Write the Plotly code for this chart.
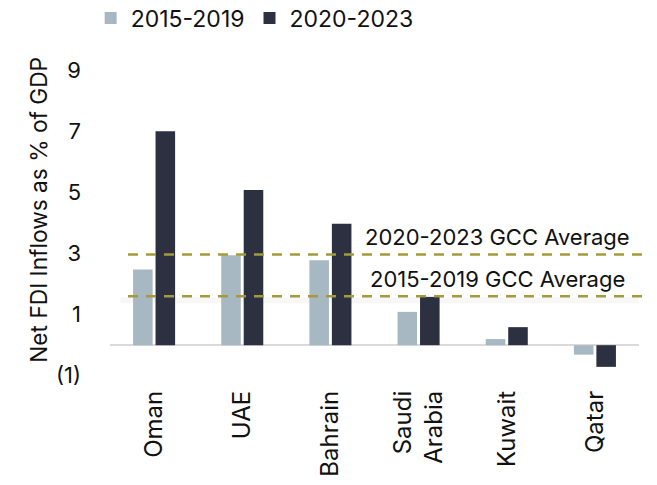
import plotly.graph_objects as go

# Net FDI inflows as % of GDP, GCC economies
countries = ["Oman", "UAE", "Bahrain", "Saudi<br>Arabia", "Kuwait", "Qatar"]
fdi_2015_2019 = [2.48, 2.94, 2.78, 1.09, 0.20, -0.31]
fdi_2020_2023 = [7.0, 5.08, 3.97, 1.58, 0.59, -0.71]

# GCC averages for each period
gcc_avg_2015_2019 = 1.6
gcc_avg_2020_2023 = 2.97

tick_vals = [9, 7, 5, 3, 1, -1]
tick_text = ["9", "7", "5", "3", "1", "(1)"]

FONT = "Inter"
LIGHT = "#A8B8C3"
DARK = "#2D3040"
OLIVE = "#A39A3C"

fig = go.Figure()
fig.add_trace(go.Bar(x=countries, y=fdi_2015_2019, name="2015-2019",
                     marker=dict(color=LIGHT, line=dict(width=0))))
fig.add_trace(go.Bar(x=countries, y=fdi_2020_2023, name="2020-2023",
                     marker=dict(color=DARK, line=dict(width=0))))

# soft shadow under the lower average line
fig.add_shape(type="line", xref="paper", yref="y", x0=0.02, x1=1.0,
              y0=gcc_avg_2015_2019 - 0.13, y1=gcc_avg_2015_2019 - 0.13,
              line=dict(color="rgba(0,0,0,0.03)", width=6), layer="below")

for val, label in [(gcc_avg_2020_2023, "2020-2023 GCC Average"),
                   (gcc_avg_2015_2019, "2015-2019 GCC Average")]:
    fig.add_shape(type="line", xref="paper", yref="y", x0=0.034, x1=1.008,
                  y0=val, y1=val, layer="above",
                  line=dict(color=OLIVE, width=2.5, dash="10px,8px"))
    fig.add_annotation(xref="paper", yref="y", x=0.733, xanchor="center",
                       y=val, yshift=17, text=label, showarrow=False,
                       font=dict(family=FONT, size=22, color="#111111"))

fig.add_annotation(xref="paper", yref="paper", x=-0.135, xanchor="center",
                   y=0.548, yanchor="middle",
                   text="Net FDI Inflows as % of GDP", textangle=-90,
                   showarrow=False,
                   font=dict(family=FONT, size=22.7, color="#111111"))

fig.update_layout(
    width=657, height=485,
    margin=dict(l=110, r=18, t=61, b=94, autoexpand=False),
    paper_bgcolor="white", plot_bgcolor="white",
    barmode="group", bargap=0.49, bargroupgap=0.13,
    font=dict(family=FONT, size=20, color="#111111"),
    showlegend=True,
    legend=dict(orientation="h", xref="container", yref="container",
                x=0.138, xanchor="left", y=0.963, yanchor="middle",
                font=dict(family=FONT, size=23), itemwidth=30,
                bgcolor="rgba(0,0,0,0)"),
)
fig.update_xaxes(showgrid=False, showline=False, zeroline=False,
                 tickangle=-90, ticks="", ticklabelstandoff=-6,
                 tickfont=dict(family=FONT, size=24, color="#111111"),
                 automargin=False)
fig.update_yaxes(range=[-1.5, 9.3], showgrid=False, showline=False,
                 zeroline=True, zerolinecolor="#DADADA", zerolinewidth=2,
                 tickvals=tick_vals, ticktext=tick_text, ticks="",
                 ticklabelstandoff=28,
                 tickfont=dict(family=FONT, size=22, color="#111111"),
                 automargin=False)

fig.write_html("out.html")
